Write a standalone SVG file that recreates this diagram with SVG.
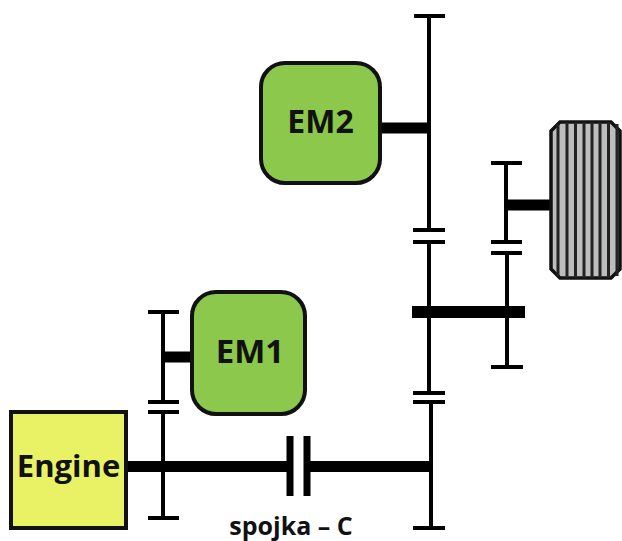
<svg xmlns="http://www.w3.org/2000/svg" width="622" height="541" viewBox="0 0 622 541">
<style>
.t{font-family:"Open Sans","Noto Sans",sans-serif;font-weight:700;fill:#111}
.n{stroke:#111;stroke-width:4}
.s{stroke:#000;stroke-width:4;fill:none}
.h{stroke:#000;stroke-width:11;fill:none}
</style>
<rect width="622" height="541" fill="#fff"/>
<g id="connectors">
<path class="s" d="M429 16V228M414 16H445M413 230H445M413 242H445M429 242V312M429 312V393M413 393H445M413 402H445M431 402V528M413 528H445"/>
<path class="s" d="M506 163V242M491 163H522M491 242H522M491 253H522M507 253V367M491 367H523"/>
<path class="s" d="M163 312V402M148 312H179M148 402H179M148 412H179M163 412V518M148 518H179"/>
<path class="h" d="M381 128H429M506 205H553M163 357H191M126 466.500H290M307 466.500H431"/>
<path d="M412 312H525" stroke="#000" stroke-width="12" fill="none"/>
<path d="M290 436V496M307 436V496" stroke="#000" stroke-width="7" fill="none"/>
</g>
<g id="wheel">
<path d="M560 122H611L620 131V269L611 278H560L551 269V131Z" fill="#bdbdbd" stroke="#111" stroke-width="3.500"/>
<path d="M558 124V276M567 122V278M575.500 122V278M584 122V278M592 122V278M600 122V278M608.500 122V278M617 124V276" stroke="#222" stroke-width="3" fill="none"/>
</g>
<g id="em2">
<rect class="n" x="261" y="63" width="119" height="120" rx="24" fill="#8cc84b"/>
<text class="t" x="320.500" y="133" font-size="32" text-anchor="middle">EM2</text>
</g>
<g id="em1">
<rect class="n" x="192" y="292" width="113" height="122" rx="24" fill="#8cc84b"/>
<text class="t" x="250" y="363" font-size="33" text-anchor="middle">EM1</text>
</g>
<g id="engine">
<rect class="n" x="11" y="412" width="115" height="116" fill="#e8f264"/>
<text class="t" x="68.500" y="477" font-size="31" text-anchor="middle">Engine</text>
</g>
<text class="t" x="291" y="535" font-size="25" text-anchor="middle">spojka – C</text>
</svg>
